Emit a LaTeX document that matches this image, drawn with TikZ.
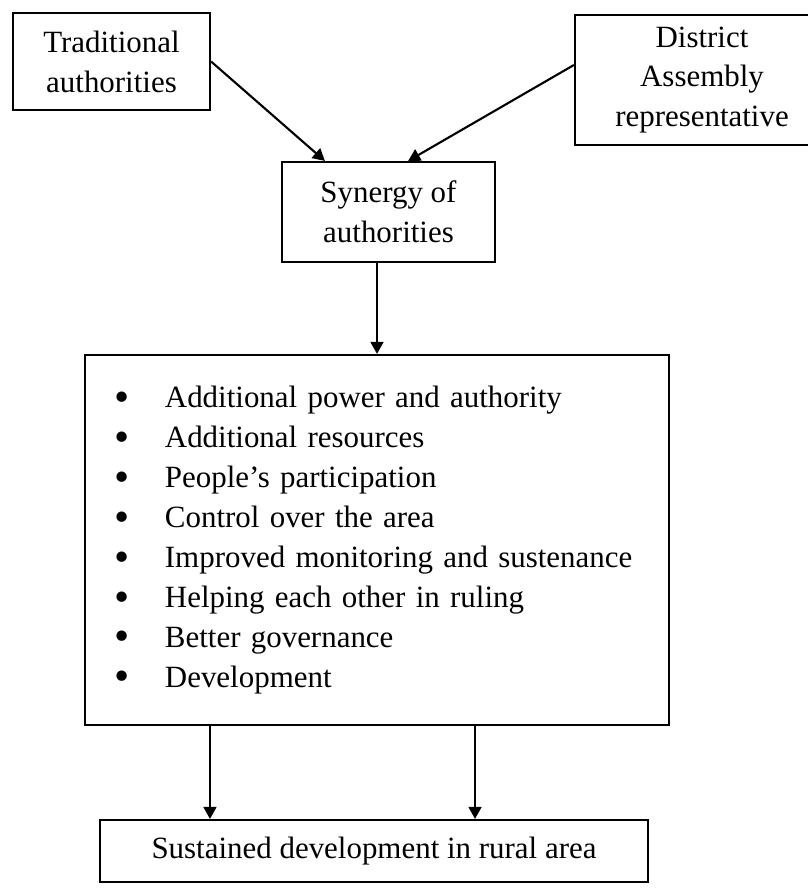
\documentclass[tikz,border=0pt]{standalone}
\usepackage{fontspec}
\setmainfont{Liberation Serif}
\usetikzlibrary{arrows.meta}

\newcommand{\gain}[1]{\makebox[1.25cm][l]{\raisebox{-0.12em}{\scalebox{1.4}{\textbullet}}}#1}

\begin{document}
\begin{tikzpicture}[x=0.025cm,y=-0.025cm,->,>={Triangle[length=0.3cm,width=0.32cm]},line width=1.5pt,
  box node/.style={rectangle,draw,align=center,inner sep=0pt,font=\fontsize{22}{28.4}\selectfont}]

  \useasboundingbox (0,0) rectangle (808,889);

  \node[box node,minimum width=4.925cm,minimum height=2.425cm] (trad) at (111.5,61.5) {Traditional\\authorities};
  \node[box node,minimum width=6.35cm,minimum height=3.25cm] (dist) at (702,80) {District\\Assembly\\representative};
  \node[box node,minimum width=5.325cm,minimum height=2.5cm] (syn) at (388.5,212) {Synergy of\\authorities};
  \node[box node,align=left,text width=13.1cm,inner xsep=0.75cm,minimum height=9.25cm] (gains) at (377,540)
    {\gain{Additional power and authority}\\
     \gain{Additional resources}\\
     \gain{People's participation}\\
     \gain{Control over the area}\\
     \gain{Improved monitoring and sustenance}\\
     \gain{Helping each other in ruling}\\
     \gain{Better governance}\\
     \gain{Development}};
  \node[box node,minimum width=13.7cm,minimum height=1.55cm] (rural) at (374,851) {Sustained development in rural area};

  \coordinate (lout) at ([xshift=-4.175cm]gains.south);
  \coordinate (rout) at ([xshift=2.45cm]gains.south);

  \path
    (trad.east) edge ([xshift=-1.59cm]syn.north)
    ([yshift=0.375cm]dist.west) edge ([xshift=0.49cm]syn.north)
    (syn.south -| gains.north) edge (gains.north)
    (lout) edge (lout |- rural.north)
    (rout) edge (rout |- rural.north);
\end{tikzpicture}
\end{document}
